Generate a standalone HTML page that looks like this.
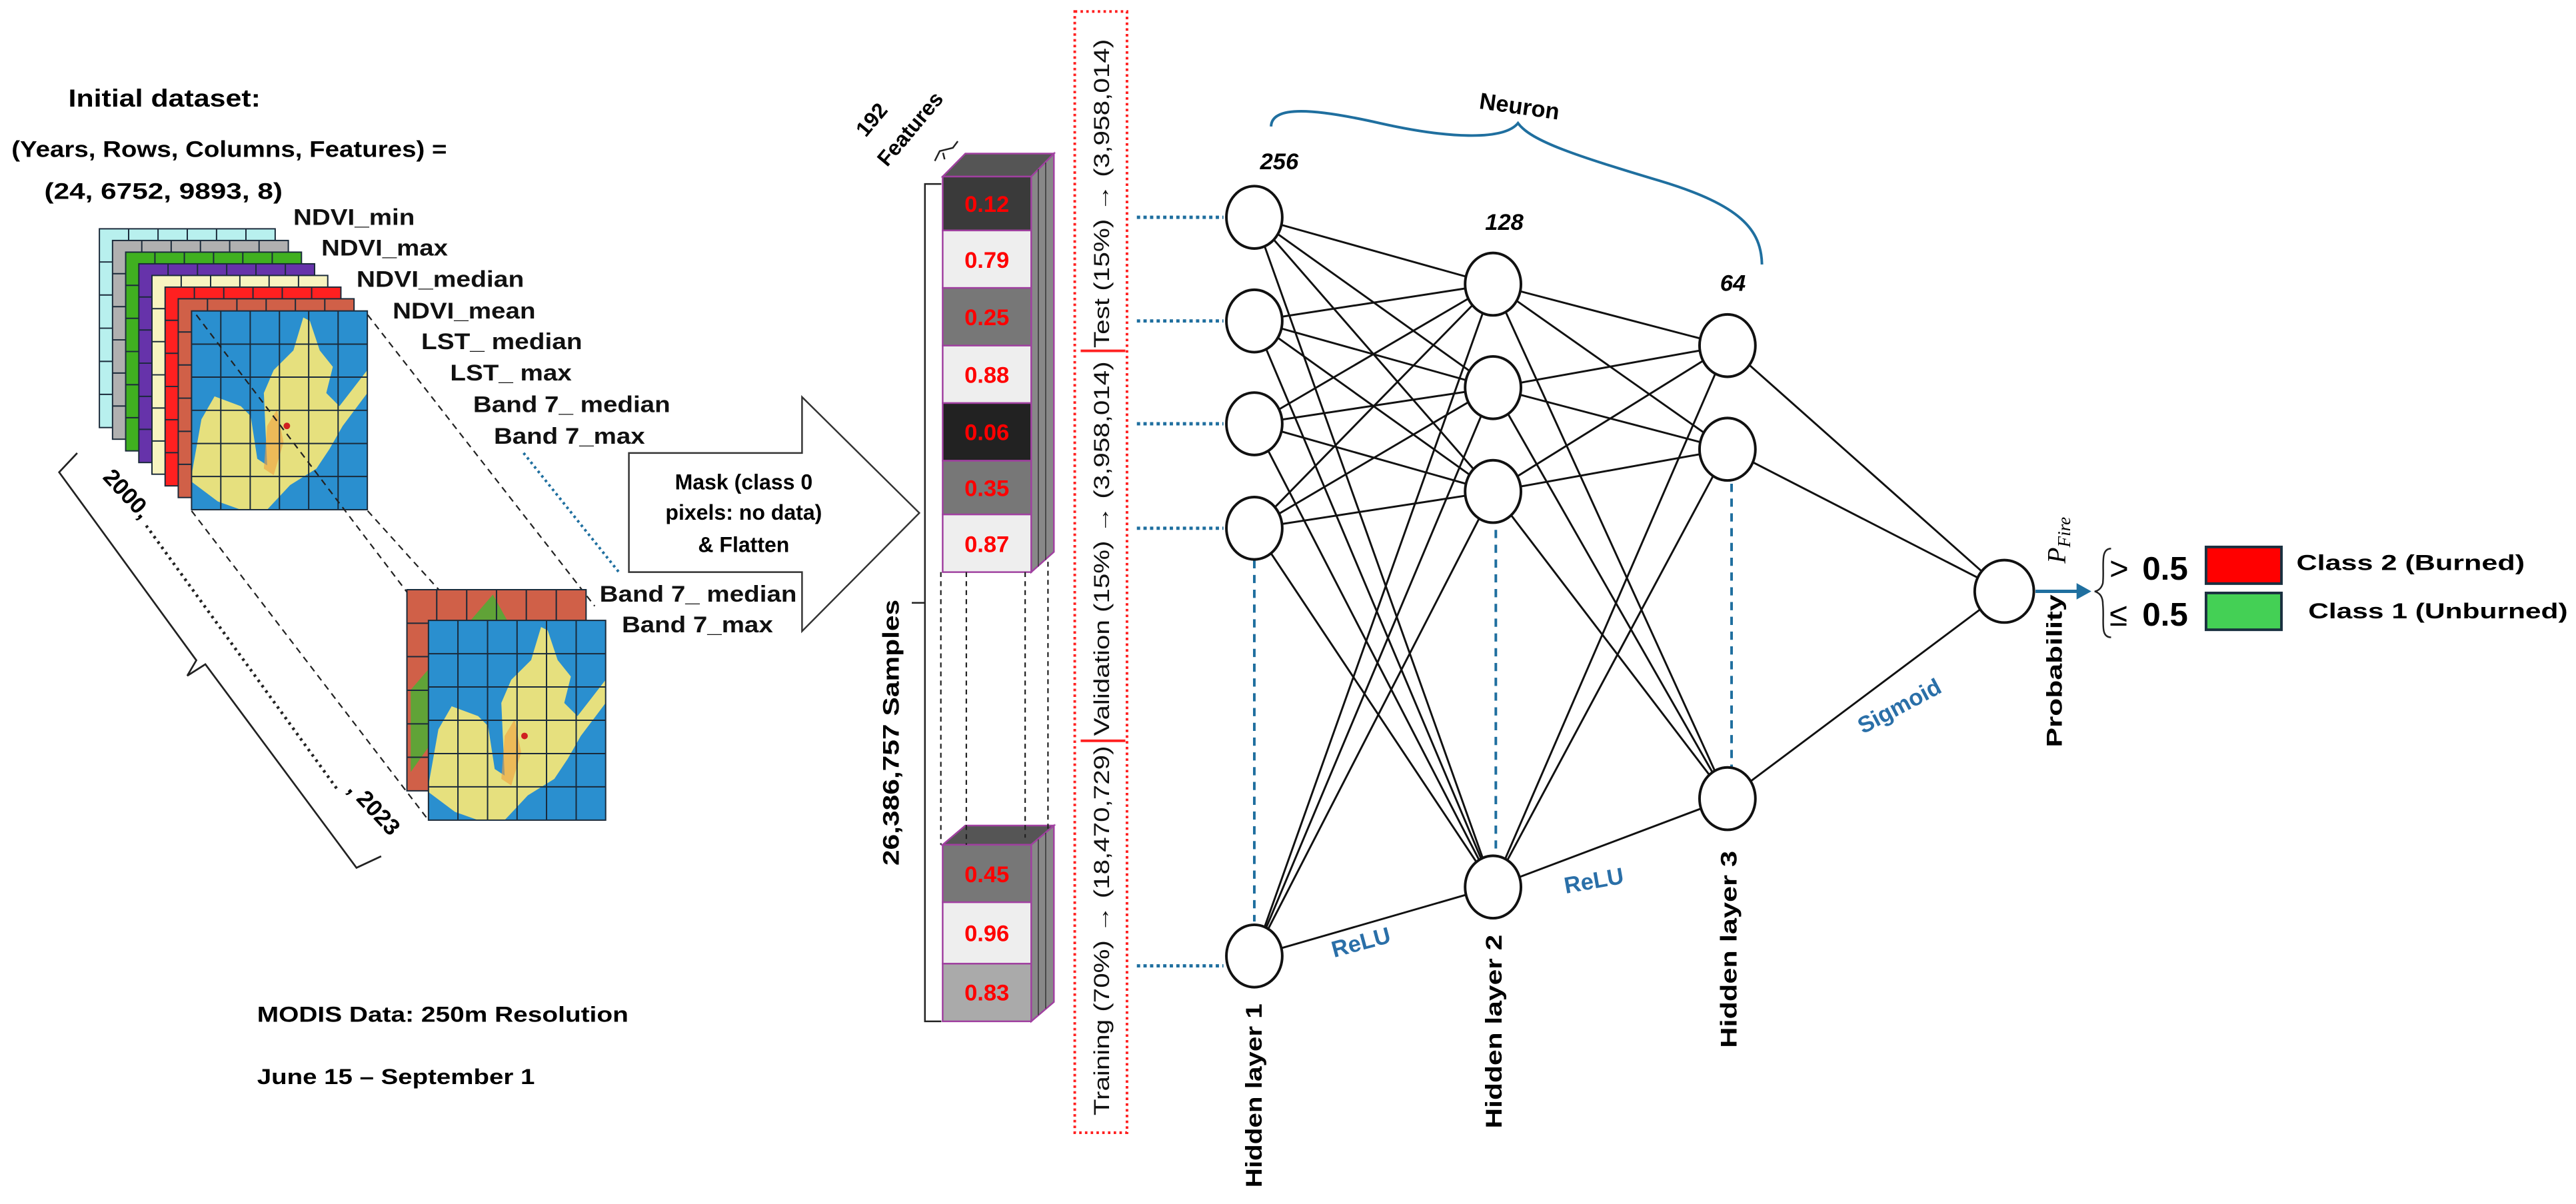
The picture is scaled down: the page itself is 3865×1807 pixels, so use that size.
<!DOCTYPE html>
<html><head><meta charset="utf-8">
<style>
html,body{margin:0;padding:0;background:#fff;}
svg{display:block;}
text{font-family:"Liberation Sans",Arial,sans-serif;}
</style></head>
<body>
<svg width="3865" height="1807" viewBox="0 0 1568 733" preserveAspectRatio="none" xmlns="http://www.w3.org/2000/svg">
<defs>
<g id="grid" stroke="#1a2a3a" stroke-width="0.8" fill="none">
<rect x="0" y="0" width="107" height="121"/>
<line x1="17.8" y1="0" x2="17.8" y2="121"/><line x1="35.7" y1="0" x2="35.7" y2="121"/><line x1="53.5" y1="0" x2="53.5" y2="121"/><line x1="71.3" y1="0" x2="71.3" y2="121"/><line x1="89.2" y1="0" x2="89.2" y2="121"/>
<line x1="0" y1="20.2" x2="107" y2="20.2"/><line x1="0" y1="40.3" x2="107" y2="40.3"/><line x1="0" y1="60.5" x2="107" y2="60.5"/><line x1="0" y1="80.7" x2="107" y2="80.7"/><line x1="0" y1="100.8" x2="107" y2="100.8"/>
</g>
<g id="map">
<rect x="0" y="0" width="107" height="121" fill="#2a8fcf"/>
<polygon fill="#e6e07e" points="0,100 6,66 14,52 30,58 36,64 40,90 46,94 44,50 50,36 62,24 68,4 72,6 78,24 86,34 82,50 90,58 107,36 107,50 92,70 84,84 76,96 60,106 46,121 30,121 16,116 0,104"/>
<polygon fill="#f0a040" opacity="0.6" points="46,70 52,60 56,80 50,100 44,96"/>
<circle cx="58" cy="70" r="2" fill="#d02020"/>
<use href="#grid"/>
</g>
</defs>

<text x="41.6" y="65" font-size="15" font-weight="bold" textLength="117" lengthAdjust="spacingAndGlyphs">Initial dataset:</text>
<text x="7" y="95.5" font-size="14" font-weight="bold" textLength="265" lengthAdjust="spacingAndGlyphs">(Years, Rows, Columns, Features) =</text>
<text x="27" y="121" font-size="14" font-weight="bold" textLength="145" lengthAdjust="spacingAndGlyphs">(24, 6752, 9893, 8)</text>

<g>
<rect x="60.5" y="139.3" width="107" height="121" fill="#b8f0ee"/><use href="#grid" x="60.5" y="139.3"/>
<rect x="68.5" y="146.4" width="107" height="121" fill="#b0b0b0"/><use href="#grid" x="68.5" y="146.4"/>
<rect x="76.5" y="153.5" width="107" height="121" fill="#40b020"/><use href="#grid" x="76.5" y="153.5"/>
<rect x="84.5" y="160.6" width="107" height="121" fill="#6633aa"/><use href="#grid" x="84.5" y="160.6"/>
<rect x="92.5" y="167.7" width="107" height="121" fill="#f8f4c0"/><use href="#grid" x="92.5" y="167.7"/>
<rect x="100.5" y="174.8" width="107" height="121" fill="#ff2020"/><use href="#grid" x="100.5" y="174.8"/>
<rect x="108.5" y="181.9" width="107" height="121" fill="#d06048"/><use href="#grid" x="108.5" y="181.9"/>
<use href="#map" x="116.6" y="189.3"/>
</g>

<g font-size="14" font-weight="bold" fill="#111">
<text x="178.5" y="137" textLength="74" lengthAdjust="spacingAndGlyphs">NDVI_min</text>
<text x="195.6" y="155.5" textLength="77" lengthAdjust="spacingAndGlyphs">NDVI_max</text>
<text x="217" y="174.7" textLength="102" lengthAdjust="spacingAndGlyphs">NDVI_median</text>
<text x="239" y="193.9" textLength="87" lengthAdjust="spacingAndGlyphs">NDVI_mean</text>
<text x="256.4" y="212.6" textLength="98" lengthAdjust="spacingAndGlyphs">LST_ median</text>
<text x="274" y="231.7" textLength="74" lengthAdjust="spacingAndGlyphs">LST_ max</text>
<text x="288" y="250.9" textLength="120" lengthAdjust="spacingAndGlyphs">Band 7_ median</text>
<text x="300.6" y="270.1" textLength="92" lengthAdjust="spacingAndGlyphs">Band 7_max</text>
<text x="365" y="366.4" textLength="120" lengthAdjust="spacingAndGlyphs">Band 7_ median</text>
<text x="378.5" y="385" textLength="92" lengthAdjust="spacingAndGlyphs">Band 7_max</text>
</g>

<g stroke="#222" stroke-width="0.9" stroke-dasharray="4,3" fill="none">
<line x1="223.8" y1="191.7" x2="362" y2="369"/>
<line x1="119.5" y1="191.7" x2="260.8" y2="377.7"/>
<line x1="223.8" y1="311" x2="268" y2="360"/>
<line x1="116.6" y1="311" x2="260.8" y2="499.3"/>
</g>
<line x1="318.7" y1="275.8" x2="376.7" y2="348.3" stroke="#1f6f9f" stroke-width="1.6" stroke-dasharray="1.5,2"/>

<rect x="247.7" y="359" width="109" height="122.5" fill="#d06048"/>
<polygon points="300,362 310,380 300,400 250,470 250,420" fill="#30c030" opacity="0.7"/>
<g transform="translate(247.7,359) scale(1.019,1.012)"><use href="#grid"/></g>
<g transform="translate(260.8,377.7) scale(1.008,1.005)"><use href="#map"/></g>

<polyline points="47,275.8 36,287.5 119.5,402 114,411.4 125,404.4 217,528.3 232,521.3" fill="none" stroke="#222" stroke-width="1.1"/>
<text font-size="14" font-weight="bold" transform="translate(62,291) rotate(47)">2000,</text>
<line x1="89" y1="320" x2="206" y2="481.5" stroke="#222" stroke-width="1.8" stroke-dasharray="1.5,2.5"/>
<text font-size="14" font-weight="bold" transform="translate(211,481) rotate(47)">, 2023</text>

<text x="156.5" y="622" font-size="13" font-weight="bold" textLength="226" lengthAdjust="spacingAndGlyphs">MODIS Data: 250m Resolution</text>
<text x="156.5" y="660" font-size="13" font-weight="bold" textLength="169" lengthAdjust="spacingAndGlyphs">June 15 – September 1</text>

<polygon points="382.8,275.8 488.2,275.8 488.2,241.7 559.6,312.3 488.2,384.3 488.2,348.3 382.8,348.3" fill="#fff" stroke="#333" stroke-width="1"/>
<g font-size="13" font-weight="bold" text-anchor="middle">
<text x="452.7" y="298">Mask (class 0</text>
<text x="452.7" y="316.5">pixels: no data)</text>
<text x="452.7" y="336">&amp; Flatten</text>
</g>

<text font-size="13" font-weight="bold" transform="translate(527,84) rotate(-50)">192</text>
<text font-size="13" font-weight="bold" transform="translate(540,102) rotate(-50)">Features</text>
<polyline points="569,98 572,92 580,90 583,86" fill="none" stroke="#222" stroke-width="1"/>
<line x1="574" y1="93" x2="575" y2="97" stroke="#222" stroke-width="1"/>
<polyline points="573,112 563,112 563,621.8 573,621.8" fill="none" stroke="#222" stroke-width="1"/>
<line x1="555" y1="367" x2="563" y2="367" stroke="#222" stroke-width="1"/>
<text font-size="14" font-weight="bold" transform="translate(547,527) rotate(-90)" textLength="162" lengthAdjust="spacingAndGlyphs">26,386,757  Samples</text>

<g stroke="#a040a0" stroke-width="1">
<polygon points="573.8,107.5 587.6,93.5 641.5,93.5 627.7,107.5" fill="#555"/>
<polygon points="627.7,107.5 641.5,93.5 641.5,336 627.7,348.3" fill="#888"/>
<rect x="573.8" y="107.5" width="53.9" height="32.8" fill="#3a3a3a"/>
<rect x="573.8" y="140.3" width="53.9" height="35" fill="#eeeeee"/>
<rect x="573.8" y="175.3" width="53.9" height="35.1" fill="#777"/>
<rect x="573.8" y="210.4" width="53.9" height="35" fill="#eeeeee"/>
<rect x="573.8" y="245.4" width="53.9" height="35.1" fill="#222"/>
<rect x="573.8" y="280.5" width="53.9" height="32.7" fill="#777"/>
<rect x="573.8" y="313.2" width="53.9" height="35.1" fill="#eeeeee"/>
</g>
<g stroke="#333" stroke-width="0.6"><line x1="632" y1="103" x2="632" y2="345"/><line x1="636.5" y1="99" x2="636.5" y2="341"/></g>
<g stroke="#a040a0" stroke-width="1">
<polygon points="573.8,514.3 587.6,502.6 641.5,502.6 627.7,514.3" fill="#555"/>
<polygon points="627.7,514.3 641.5,502.6 641.5,610 627.7,621.8" fill="#888"/>
<rect x="573.8" y="514.3" width="53.9" height="35" fill="#777"/>
<rect x="573.8" y="549.3" width="53.9" height="37.4" fill="#eeeeee"/>
<rect x="573.8" y="586.7" width="53.9" height="35.1" fill="#aaa"/>
</g>
<g stroke="#333" stroke-width="0.6"><line x1="632" y1="511" x2="632" y2="618"/><line x1="636.5" y1="507" x2="636.5" y2="614"/></g>
<g stroke="#222" stroke-width="0.9" stroke-dasharray="3,2.5">
<line x1="572.7" y1="348.3" x2="572.7" y2="514.3"/>
<line x1="588.2" y1="348.3" x2="588.2" y2="514.3"/>
<line x1="624" y1="348.3" x2="624" y2="510"/>
<line x1="637.9" y1="342" x2="637.9" y2="505"/>
</g>
<g font-size="14" font-weight="bold" fill="#ff0000" text-anchor="middle">
<text x="600.7" y="129">0.12</text>
<text x="600.7" y="163">0.79</text>
<text x="600.7" y="198">0.25</text>
<text x="600.7" y="233">0.88</text>
<text x="600.7" y="268">0.06</text>
<text x="600.7" y="302">0.35</text>
<text x="600.7" y="336">0.87</text>
<text x="600.7" y="537">0.45</text>
<text x="600.7" y="573">0.96</text>
<text x="600.7" y="609">0.83</text>
</g>

<rect x="654.2" y="7" width="31.8" height="682.6" fill="none" stroke="#ff2020" stroke-width="1.6" stroke-dasharray="1.5,2"/>
<line x1="657.8" y1="213.6" x2="685" y2="213.6" stroke="#ff2020" stroke-width="1.6"/>
<line x1="657.8" y1="451" x2="685" y2="451" stroke="#ff2020" stroke-width="1.6"/>
<g font-size="13" fill="#111" text-anchor="middle">
<text transform="translate(675,117.8) rotate(-90)" textLength="188" lengthAdjust="spacingAndGlyphs">Test (15%) → (3,958,014)</text>
<text transform="translate(675,334) rotate(-90)" textLength="228" lengthAdjust="spacingAndGlyphs">Validation (15%) → (3,958,014)</text>
<text transform="translate(675,566.6) rotate(-90)" textLength="225" lengthAdjust="spacingAndGlyphs">Training (70%) → (18,470,729)</text>
</g>

<g stroke="#1f6f9f" stroke-width="2" stroke-dasharray="2,2">
<line x1="692" y1="132.3" x2="744.7" y2="132.3"/>
<line x1="692" y1="195.4" x2="744.7" y2="195.4"/>
<line x1="692" y1="258" x2="744.7" y2="258"/>
<line x1="692" y1="321.6" x2="744.7" y2="321.6"/>
<line x1="692" y1="588" x2="744.7" y2="588"/>
</g>

<g stroke="#111" stroke-width="1.2">
<line x1="763.5" y1="132.3" x2="908.8" y2="173"/><line x1="763.5" y1="132.3" x2="908.8" y2="236"/><line x1="763.5" y1="132.3" x2="908.8" y2="299.2"/><line x1="763.5" y1="132.3" x2="908.8" y2="540"/>
<line x1="763.5" y1="195.4" x2="908.8" y2="173"/><line x1="763.5" y1="195.4" x2="908.8" y2="236"/><line x1="763.5" y1="195.4" x2="908.8" y2="299.2"/><line x1="763.5" y1="195.4" x2="908.8" y2="540"/>
<line x1="763.5" y1="258" x2="908.8" y2="173"/><line x1="763.5" y1="258" x2="908.8" y2="236"/><line x1="763.5" y1="258" x2="908.8" y2="299.2"/><line x1="763.5" y1="258" x2="908.8" y2="540"/>
<line x1="763.5" y1="321.6" x2="908.8" y2="173"/><line x1="763.5" y1="321.6" x2="908.8" y2="236"/><line x1="763.5" y1="321.6" x2="908.8" y2="299.2"/><line x1="763.5" y1="321.6" x2="908.8" y2="540"/>
<line x1="763.5" y1="582" x2="908.8" y2="173"/><line x1="763.5" y1="582" x2="908.8" y2="236"/><line x1="763.5" y1="582" x2="908.8" y2="299.2"/><line x1="763.5" y1="582" x2="908.8" y2="540"/>
<line x1="908.8" y1="173" x2="1051.5" y2="210.4"/><line x1="908.8" y1="173" x2="1051.5" y2="273.5"/><line x1="908.8" y1="173" x2="1051.5" y2="486.2"/>
<line x1="908.8" y1="236" x2="1051.5" y2="210.4"/><line x1="908.8" y1="236" x2="1051.5" y2="273.5"/><line x1="908.8" y1="236" x2="1051.5" y2="486.2"/>
<line x1="908.8" y1="299.2" x2="1051.5" y2="210.4"/><line x1="908.8" y1="299.2" x2="1051.5" y2="273.5"/><line x1="908.8" y1="299.2" x2="1051.5" y2="486.2"/>
<line x1="908.8" y1="540" x2="1051.5" y2="210.4"/><line x1="908.8" y1="540" x2="1051.5" y2="273.5"/><line x1="908.8" y1="540" x2="1051.5" y2="486.2"/>
<line x1="1051.5" y1="210.4" x2="1220" y2="360"/><line x1="1051.5" y1="273.5" x2="1220" y2="360"/><line x1="1051.5" y1="486.2" x2="1220" y2="360"/>
</g>

<g stroke="#1f6f9f" stroke-width="1.6" stroke-dasharray="5,4">
<line x1="763.5" y1="341" x2="763.5" y2="561"/>
<line x1="910.5" y1="322.6" x2="910.5" y2="521"/>
<line x1="1054" y1="294.5" x2="1054" y2="467.5"/>
</g>

<g fill="#fff" stroke="#111" stroke-width="1.6">
<ellipse cx="763.5" cy="132.3" rx="17" ry="19"/><ellipse cx="763.5" cy="195.4" rx="17" ry="19"/><ellipse cx="763.5" cy="258" rx="17" ry="19"/><ellipse cx="763.5" cy="321.6" rx="17" ry="19"/><ellipse cx="763.5" cy="582" rx="17" ry="19"/>
<ellipse cx="908.8" cy="173" rx="17" ry="19"/><ellipse cx="908.8" cy="236" rx="17" ry="19"/><ellipse cx="908.8" cy="299.2" rx="17" ry="19"/><ellipse cx="908.8" cy="540" rx="17" ry="19"/>
<ellipse cx="1051.5" cy="210.4" rx="17" ry="19"/><ellipse cx="1051.5" cy="273.5" rx="17" ry="19"/><ellipse cx="1051.5" cy="486.2" rx="17" ry="19"/>
<ellipse cx="1220" cy="360" rx="18" ry="19"/>
</g>

<g font-size="14" font-weight="bold" font-style="italic">
<text x="767" y="103">256</text>
<text x="904" y="140">128</text>
<text x="1047" y="177">64</text>
</g>
<path d="M773.7,77 C774,64 800,66 840,75 C880,84 915,86 924,75 C932,86 960,95 1010,110 C1060,125 1072,140 1072.5,161" fill="none" stroke="#1f6f9f" stroke-width="1.6"/>
<text font-size="14" font-weight="bold" transform="translate(900,66) rotate(8)">Neuron</text>

<g font-size="14" font-weight="bold">
<text transform="translate(768,723) rotate(-90)" textLength="112" lengthAdjust="spacingAndGlyphs">Hidden layer 1</text>
<text transform="translate(914,687) rotate(-90)" textLength="118" lengthAdjust="spacingAndGlyphs">Hidden layer 2</text>
<text transform="translate(1057,638) rotate(-90)" textLength="120" lengthAdjust="spacingAndGlyphs">Hidden layer 3</text>
</g>
<g font-size="14" font-weight="bold" fill="#2a6fa8">
<text transform="translate(812,583) rotate(-15)">ReLU</text>
<text transform="translate(953,544) rotate(-10)">ReLU</text>
<text transform="translate(1134,447) rotate(-28)">Sigmoid</text>
</g>

<text font-size="13" font-weight="bold" transform="translate(1255,455) rotate(-90)" textLength="93" lengthAdjust="spacingAndGlyphs">Probability</text>
<text font-size="16" font-style="italic" transform="translate(1257,343) rotate(-90)" style="font-family:'Liberation Serif',serif">P<tspan font-size="11" dy="3">Fire</tspan></text>
<line x1="1239" y1="360" x2="1266" y2="360" stroke="#1f6f9f" stroke-width="2"/>
<polygon points="1264,355 1273,360 1264,365" fill="#1f6f9f"/>
<path d="M1285,334 C1278,334 1281,345 1280,355 C1279,359 1276,360 1275,360 C1278,361 1280,363 1280,368 C1281,378 1278,388 1285,388" fill="none" stroke="#222" stroke-width="1"/>
<g font-size="20" font-weight="bold" style="font-family:'Liberation Serif',serif">
<text x="1284" y="353" font-weight="normal">&gt;</text><text x="1304" y="353">0.5</text>
<text x="1284" y="381" font-weight="normal">≤</text><text x="1304" y="381">0.5</text>
</g>
<rect x="1342.8" y="333" width="45.9" height="22.3" fill="#ff0000" stroke="#1a3040" stroke-width="1.6"/>
<rect x="1342.8" y="361" width="45.9" height="22.4" fill="#44d055" stroke="#1a3040" stroke-width="1.6"/>
<text x="1397.8" y="347" font-size="13" font-weight="bold" textLength="139" lengthAdjust="spacingAndGlyphs">Class 2 (Burned)</text>
<text x="1405" y="376.5" font-size="13" font-weight="bold" textLength="158" lengthAdjust="spacingAndGlyphs">Class 1 (Unburned)</text>
</svg>
</body></html>
